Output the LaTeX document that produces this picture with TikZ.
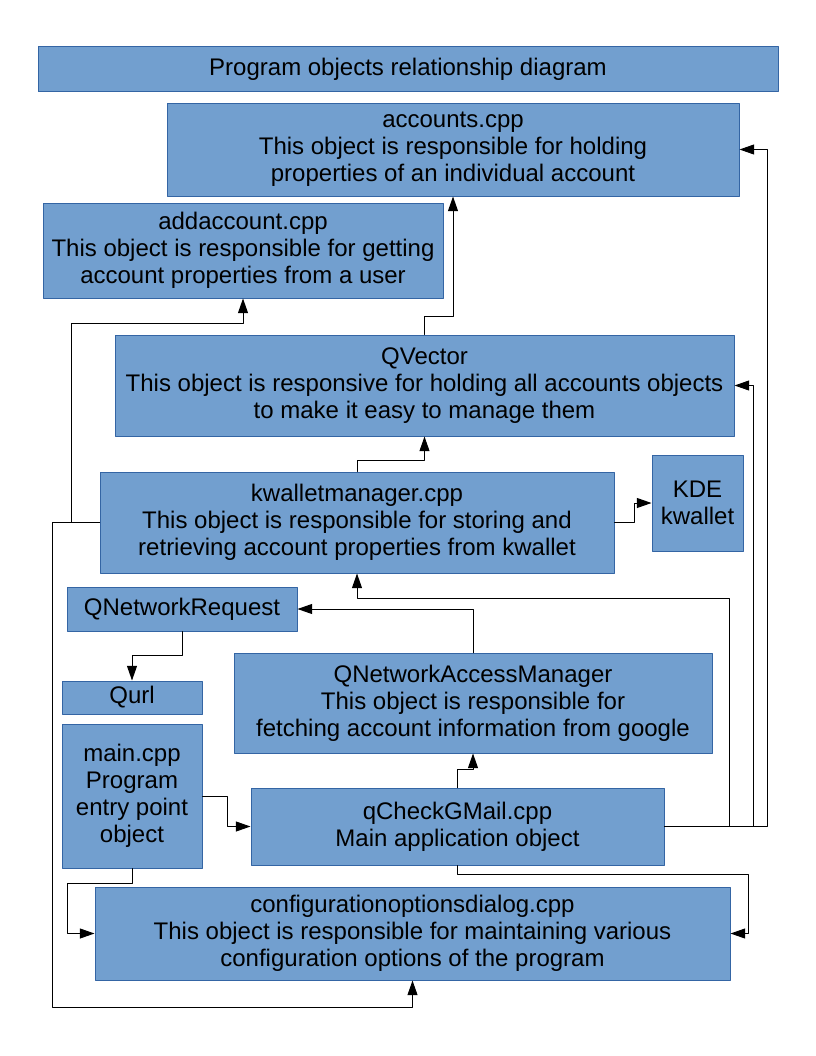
\documentclass[tikz,border=0pt]{standalone}
\usepackage{fontspec}
\setmainfont{Liberation Sans}
\usetikzlibrary{arrows.meta}
\definecolor{boxfill}{RGB}{114,159,207}
\definecolor{boxline}{RGB}{52,101,164}
\tikzset{boxsize/.style 2 args={minimum width=#1*0.75pt, minimum height=#2*0.75pt}}
\begin{document}
\begin{tikzpicture}[x=0.75pt, y=-0.75pt, line join=round, line cap=round,
		obj/.style={draw=boxline, fill=boxfill, line width=0.75pt, align=center, inner sep=0pt,
			font=\fontsize{18}{20.25}\selectfont},
		arr/.style={-{Triangle[length=11pt,width=7.5pt]}, line width=0.75pt}]
				\useasboundingbox (0,0) rectangle (816,1056);
				
				\node[obj, boxsize={740}{45}] (title) at (408,69.5) {Program objects relationship diagram};
				\node[obj, boxsize={572}{93}] (accounts) at (453,149.5) {accounts.cpp\\This object is responsible for holding\\properties of an individual account};
				\node[obj, boxsize={400}{95}] (addaccount) at (243,250.5) {addaccount.cpp\\This object is responsible for getting\\account properties from a user};
				\node[obj, boxsize={619}{101}] (qvector) at (424.5,385.5) {QVector\\This object is responsive for holding all accounts objects\\to make it easy to manage them};
				\node[obj, boxsize={514}{101}] (kwallet) at (357,522.5) {kwalletmanager.cpp\\This object is responsible for storing and\\retrieving account properties from kwallet};
				\node[obj, boxsize={91}{96}] (kde) at (697.5,503) {KDE\\kwallet};
				\node[obj, boxsize={230}{44}] (qnetreq) at (182,609) {QNetworkRequest};
				\node[obj, boxsize={140}{33}] (qurl) at (132,697.5) {Qurl};
				\node[obj, boxsize={140}{144}] (main) at (132,796) {main.cpp\\Program\\entry point\\object};
				\node[obj, boxsize={478}{100}] (qnam) at (473,703) {QNetworkAccessManager\\This object is responsible for\\fetching account information from google};
				\node[obj, boxsize={413}{77}] (qcheck) at (457.5,826.5) {qCheckGMail.cpp\\Main application object};
				\node[obj, boxsize={635}{93}] (config) at (412.5,933.5) {configurationoptionsdialog.cpp\\This object is responsible for maintaining various\\configuration options of the program};
				
				\draw[arr] (qvector.north) -- ++(0,-18) -| (accounts.south);
				\draw[arr] (kwallet.west) -| (71,323) -| (addaccount.south);
				\draw[arr] (kwallet.west) -| (52,1007) -| (config.south);
				\draw[arr] (kwallet.north) -- ++(0,-11) -| (qvector.south);
				\draw[arr] (kwallet.east) -- ++(20,0) |- (kde.west);
				\draw[arr] (qnam.north) |- (qnetreq.east);
				\draw[arr] (qnetreq.south) -- ++(0,24) -| (qurl.north);
				\draw[arr] (main.east) -- ++(25,0) |- (qcheck.west);
				\draw[arr] (qcheck.north) -- ++(0,-18) -| (qnam.south);
				\draw[arr] (qcheck.east) -| (767,149.5) -- (accounts.east);
				\draw[arr] (qcheck.east) -| (753,385.5) -- (qvector.east);
				\draw[arr] (qcheck.east) -| (729,598) -| (kwallet.south);
				\draw[arr] (qcheck.south) |- (748,874) |- (config.east);
				\draw[arr] (main.south) |- (67,883) |- (config.west);
			\end{tikzpicture}
\end{document}
